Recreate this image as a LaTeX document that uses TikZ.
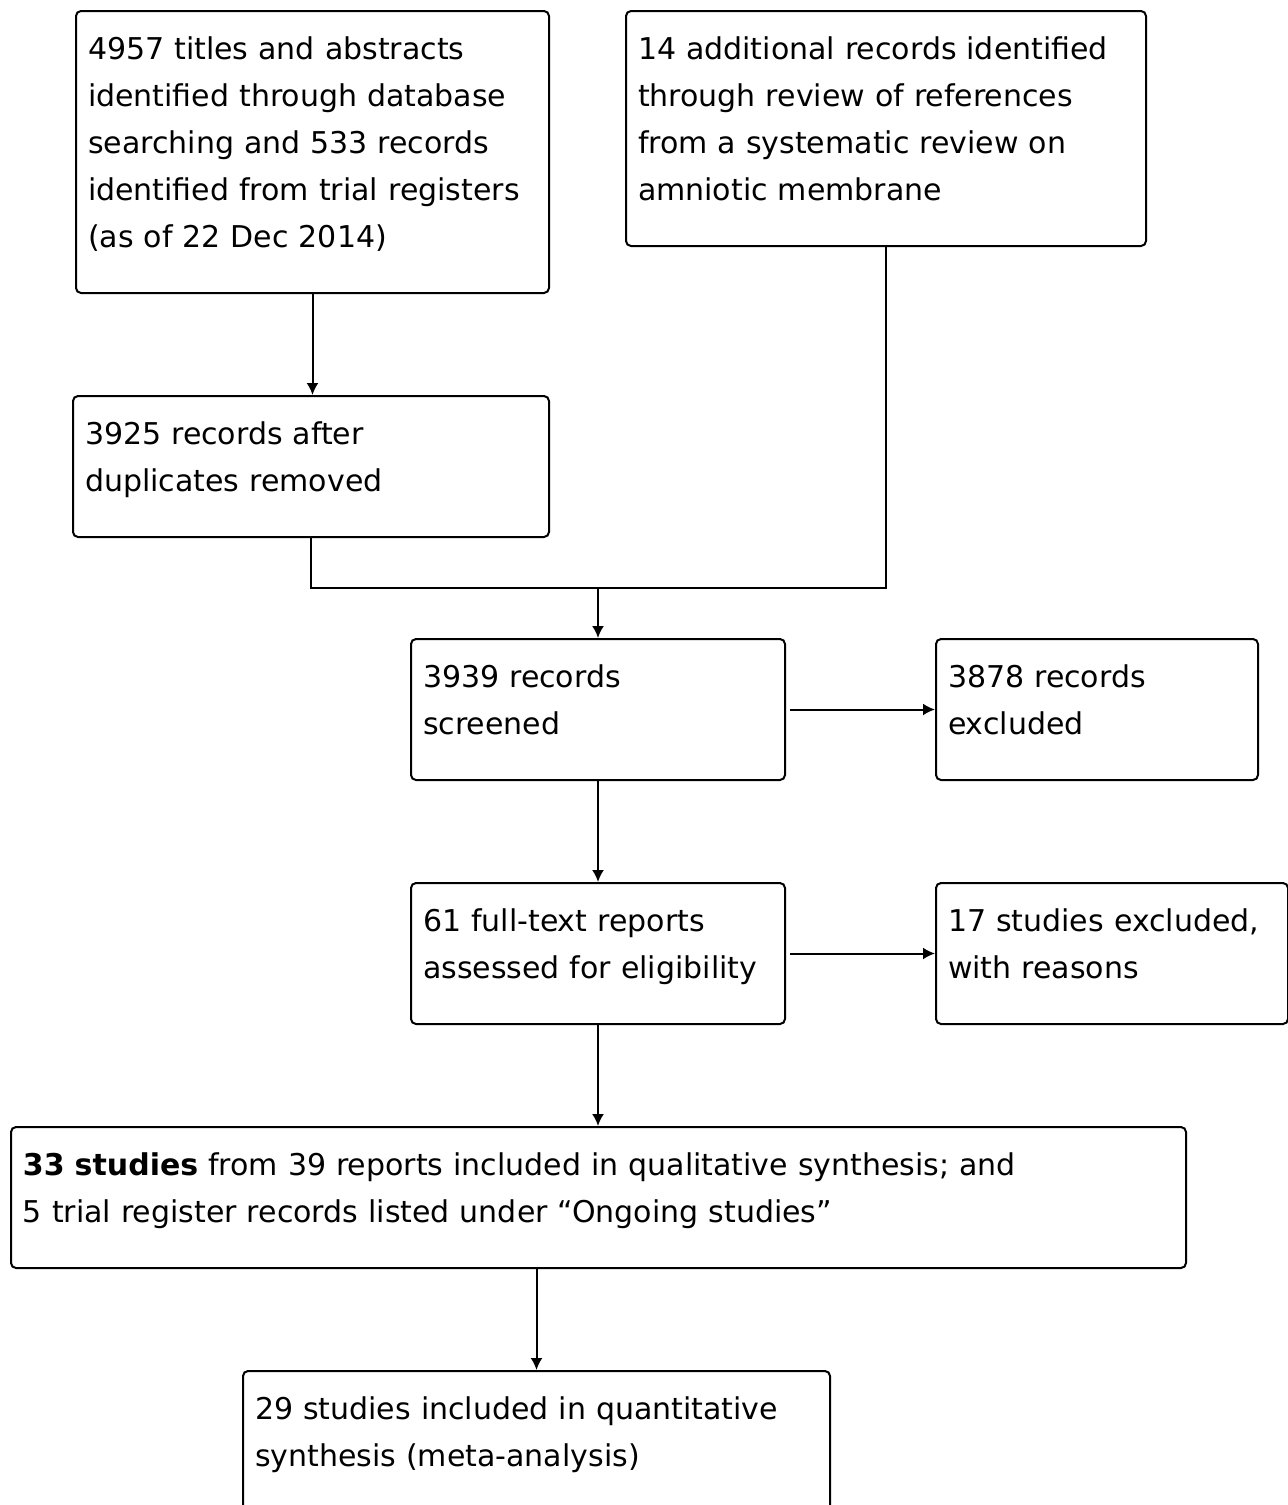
\documentclass[tikz,border=0pt]{standalone}
\usepackage{fontspec}
\setmainfont{DejaVu Sans}
\usetikzlibrary{arrows.meta}
\hyphenpenalty=10000

\tikzset{
  recbox/.style={draw, line width=1pt, rounded corners=2.5pt, anchor=north west,
    align=left, inner xsep=6pt, inner ysep=0pt,
    font=\fontsize{15}{23.5}\selectfont,
    text height=24pt, text depth={#1*23.5pt-24pt}},
  flow/.style={line width=1pt}
}

\begin{document}
\begin{tikzpicture}[x=0.5pt, y=-0.5pt, >={Latex[length=6pt,width=6pt]}]
    \useasboundingbox (0,0) rectangle (1288,1505);

    % Identification
    \node[recbox=6, text width=224.5pt] (ident) at (75,10)
      {4957 titles and abstracts\\identified through database\\searching and 533 records\\identified from trial registers\\(as of 22 Dec 2014)};
    \node[recbox=5, text width=248pt] (other) at (625,10)
      {14 additional records identified\\through review of references\\from a systematic review on\\amniotic membrane};

    % Duplicates
    \node[recbox=3, text width=226pt] (dupl) at (72,395)
      {3925 records after\\duplicates removed};

    % Screening
    \node[recbox=3, text width=175pt] (screen) at (410,638)
      {3939 records\\screened};
    \node[recbox=3, text width=149pt] (excl) at (935,638)
      {3878 records\\excluded};

    % Eligibility
    \node[recbox=3, text width=175pt] (elig) at (410,882)
      {61 full-text reports\\assessed for eligibility};
    \node[recbox=3, text width=164pt] (reasons) at (935,882)
      {17 studies excluded,\\with reasons};

    % Included
    \node[recbox=3, text width=575.5pt] (qual) at (10,1126)
      {\textbf{33 studies} from 39 reports included in qualitative synthesis; and\\5 trial register records listed under “Ongoing studies”};
    \node[recbox=3, text width=281.5pt] (quant) at (242,1370)
      {29 studies included in quantitative\\synthesis (meta-analysis)};

    % Connectors
    \coordinate (merge) at (screen.north |- 0,588);
    \draw[flow, ->] (ident.south) -- (ident.south |- dupl.north);
    \draw[flow] (dupl.south) |- (merge) -| (other.south);
    \draw[flow, ->] (merge) -- (screen.north);
    \draw[flow, ->, shorten <=2pt] (screen.east) -- (excl.west);
    \draw[flow, ->] (screen.south) -- (elig.north);
    \draw[flow, ->, shorten <=2pt] (elig.east) -- (reasons.west);
    \draw[flow, ->] (elig.south) -- (elig.south |- qual.north);
    \draw[flow, ->] (qual.south -| quant.north) -- (quant.north);
  \end{tikzpicture}
\end{document}
